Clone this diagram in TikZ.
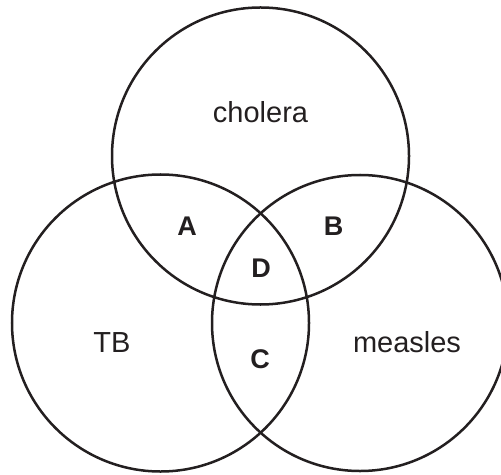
\documentclass[tikz,border=0pt]{standalone}
\usepackage{fontspec}
\setmainfont{Liberation Sans}
\definecolor{ink}{RGB}{35,31,32}
\begin{document}
\begin{tikzpicture}[x=1bp,y=-1bp,
  ring/.style={draw=ink,line width=2.5bp},
  setname/.style={anchor=base,inner sep=0pt,text=ink,font=\fontsize{29bp}{34bp}\selectfont},
  region/.style={anchor=base,inner sep=0pt,text=ink,font=\fontsize{27bp}{32bp}\selectfont\bfseries}]
\useasboundingbox (0,0) rectangle (501,475);
\clip (0,0) rectangle (501,475);
\node[ring,circle,minimum size=297bp,inner sep=0pt] (cholc) at (260.5,156) {};
\node[ring,circle,minimum size=297bp,inner sep=0pt] (tbc) at (160.5,323) {};
\node[ring,circle,minimum size=296bp,inner sep=0pt] (measc) at (360,323) {};
\node[setname] (cholera) at (260.5,123) {cholera};
\node[setname] (tb) at (112,352) {TB};
\node[setname] (measles) at (407,352) {measles};
\node[region] (A) at (187,236) {A};
\node[region] (B) at (333.5,236) {B};
\node[region] (D) at (261,277) {D};
\node[region] (C) at (260,368) {C};
\end{tikzpicture}
\end{document}
